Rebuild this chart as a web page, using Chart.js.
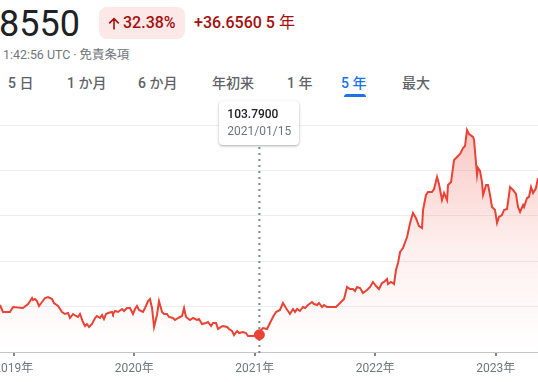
<!DOCTYPE html>
<html lang="ja">
<head>
<meta charset="utf-8">
<script src="https://cdn.jsdelivr.net/npm/chart.js@4.4.0/dist/chart.umd.min.js"></script>
<style>
  html, body { margin: 0; padding: 0; }
  body {
    width: 538px; height: 382px; overflow: hidden; position: relative; background: #fff;
    font-family: Roboto, "Noto Sans CJK JP", sans-serif;
  }
  .price { position: absolute; left: -1px; top: 3px; font-size: 36px; line-height: 42px; color: #202124; }
  .badge {
    position: absolute; left: 99px; top: 7px; width: 86px; height: 32px; box-sizing: border-box;
    padding-left: 24px; border-radius: 8px; background: #fce8e6; color: #a50e0e;
    font-size: 16px; font-weight: 500; line-height: 32px; white-space: nowrap;
  }
  .badge svg { position: absolute; left: 9px; top: 10px; }
  .change { position: absolute; left: 194px; top: 7px; line-height: 32px; color: #a50e0e; font-size: 16px; font-weight: 500; white-space: nowrap; }
  .change span { font-weight: 400; }
  .stamp { position: absolute; left: 3px; top: 47px; font-size: 12.4px; line-height: 16px; color: #70757a; white-space: nowrap; }
  .tab { position: absolute; top: 74px; font-size: 14px; font-weight: 500; line-height: 18px; color: #5f6368; white-space: nowrap; }
  .tab.on { color: #1a73e8; }
  .tab.on::after { content: ''; position: absolute; left: 3px; right: 0; top: 20px; height: 3px; background: #1a73e8; border-radius: 3px 3px 0 0; }
  #wrap { position: absolute; left: -60px; top: 100px; width: 658px; height: 282px; }
  #tip {
    position: absolute; top: 101px; width: 80px; height: 44px; box-sizing: border-box; padding: 5px 0 0 8px;
    background: #fff; border-radius: 4px; font-size: 12px; line-height: 17px; z-index: 2;
    box-shadow: 0 1px 3px rgba(60,64,67,.3), 0 1px 2px rgba(60,64,67,.15);
  }
  #tipValue { color: #202124; font-weight: 500; }
  #tipDate { color: #70757a; }
</style>
</head>
<body>
<div class="price">8550</div>
<div class="badge"><svg width="12" height="13" viewBox="0 0 12 13"><path d="M6 12.5V1.6M1.2 6.4L6 1.6l4.8 4.8" fill="none" stroke="#a50e0e" stroke-width="1.6"/></svg>32.38%</div>
<div class="change">+36.6560 5 <span>年</span></div>
<div class="stamp">1:42:56 UTC · 免責条項</div>

<div class="tab" style="left:8px">5 日</div>
<div class="tab" style="left:67px">1 か月</div>
<div class="tab" style="left:138px">6 か月</div>
<div class="tab" style="left:212px">年初来</div>
<div class="tab" style="left:287px">1 年</div>
<div class="tab on" style="left:341px">5 年</div>
<div class="tab" style="left:402px">最大</div>

<div id="wrap"><canvas id="chart"></canvas></div>
<div id="tip"><div id="tipValue"></div><div id="tipDate"></div></div>

<script>
// x positions as decimal years
const xYears = [
  2018.885, 2018.910, 2018.968, 2018.993, 2019.076, 2019.118, 2019.151, 2019.159, 2019.176, 2019.192,
  2019.209, 2019.234, 2019.259, 2019.284, 2019.317, 2019.333, 2019.367, 2019.400, 2019.425, 2019.450,
  2019.466, 2019.491, 2019.516, 2019.533, 2019.549, 2019.574, 2019.591, 2019.607, 2019.624, 2019.649,
  2019.674, 2019.690, 2019.715, 2019.732, 2019.748, 2019.765, 2019.782, 2019.815, 2019.823, 2019.840,
  2019.865, 2019.898, 2019.915, 2019.939, 2019.964, 2019.989, 2020.006, 2020.022, 2020.039, 2020.072,
  2020.089, 2020.114, 2020.130, 2020.147, 2020.164, 2020.188, 2020.205, 2020.230, 2020.247, 2020.271,
  2020.288, 2020.321, 2020.338, 2020.363, 2020.379, 2020.396, 2020.413, 2020.429, 2020.462, 2020.487,
  2020.520, 2020.537, 2020.562, 2020.595, 2020.612, 2020.637, 2020.653, 2020.678, 2020.695, 2020.720,
  2020.736, 2020.770, 2020.786, 2020.811, 2020.828, 2020.853, 2020.869, 2020.902, 2020.927, 2020.944,
  2020.985, 2021.038, 2021.052, 2021.068, 2021.102, 2021.126, 2021.151, 2021.176, 2021.209, 2021.234,
  2021.259, 2021.292, 2021.317, 2021.334, 2021.351, 2021.375, 2021.400, 2021.417, 2021.442, 2021.475,
  2021.492, 2021.517, 2021.533, 2021.558, 2021.575, 2021.600, 2021.624, 2021.674, 2021.691, 2021.724,
  2021.741, 2021.766, 2021.790, 2021.815, 2021.832, 2021.849, 2021.874, 2021.898, 2021.932, 2021.957,
  2021.981, 2022.006, 2022.031, 2022.056, 2022.073, 2022.098, 2022.106, 2022.131, 2022.147, 2022.156,
  2022.172, 2022.189, 2022.206, 2022.230, 2022.264, 2022.289, 2022.313, 2022.338, 2022.363, 2022.388,
  2022.397, 2022.421, 2022.438, 2022.471, 2022.488, 2022.513, 2022.529, 2022.554, 2022.571, 2022.596,
  2022.604, 2022.629, 2022.654, 2022.679, 2022.704, 2022.729, 2022.745, 2022.762, 2022.778, 2022.812,
  2022.820, 2022.845, 2022.853, 2022.870, 2022.886, 2022.895, 2022.920, 2022.936, 2022.953, 2022.969,
  2022.994, 2023.011, 2023.027, 2023.052, 2023.069, 2023.094, 2023.119, 2023.144, 2023.168, 2023.185,
  2023.202, 2023.227, 2023.235, 2023.260, 2023.276, 2023.293, 2023.310, 2023.334, 2023.351
];

const prices = [
  110.35, 108.81, 108.81, 109.91, 109.69, 110.57, 111.89, 111.45, 111.67, 111.23,
  110.13, 111.01, 111.89, 112.11, 111.67, 110.79, 110.13, 108.81, 108.37, 108.59,
  107.49, 108.37, 107.93, 107.71, 108.37, 106.61, 105.73, 106.17, 105.51, 106.17,
  107.49, 107.93, 107.49, 108.15, 107.27, 108.37, 108.59, 108.81, 108.37, 109.03,
  108.81, 109.47, 109.03, 109.69, 109.69, 108.37, 109.47, 110.13, 109.25, 108.81,
  109.69, 111.23, 111.67, 109.69, 105.51, 108.15, 111.23, 108.81, 108.37, 108.37,
  107.71, 107.49, 107.05, 107.49, 107.71, 107.93, 109.69, 107.71, 107.05, 107.49,
  107.05, 107.27, 106.17, 106.39, 106.61, 105.73, 106.39, 106.39, 105.07, 105.51,
  105.73, 105.51, 105.07, 104.63, 103.74, 104.63, 104.18, 104.41, 104.18, 103.52,
  103.52, 103.79, 104.85, 105.29, 105.07, 106.39, 107.71, 108.81, 109.25, 110.79,
  109.69, 108.37, 109.47, 108.81, 109.47, 109.03, 109.91, 109.69, 110.35, 111.01,
  110.57, 110.35, 110.79, 109.91, 110.35, 109.91, 109.91, 109.91, 110.35, 111.23,
  111.67, 114.32, 113.88, 113.88, 113.44, 114.32, 114.10, 113.00, 113.66, 114.32,
  115.42, 114.54, 113.88, 115.20, 115.42, 116.08, 114.98, 115.42, 115.20, 114.98,
  118.06, 119.60, 122.03, 122.91, 125.33, 128.41, 130.62, 129.51, 127.75, 127.31,
  131.28, 134.58, 135.24, 135.24, 135.90, 138.55, 137.00, 133.48, 135.02, 133.48,
  136.78, 137.44, 142.29, 142.95, 143.61, 144.93, 145.37, 148.90, 148.02, 147.36,
  146.70, 138.99, 140.53, 139.87, 137.44, 134.58, 136.78, 136.78, 134.58, 131.94,
  131.28, 128.41, 129.74, 130.18, 131.28, 131.50, 136.34, 135.68, 134.80, 131.94,
  130.84, 132.38, 131.94, 133.92, 134.14, 136.34, 135.02, 136.12, 138.33
];

const yearTicks = [2019, 2020, 2021, 2022, 2023];
const yTicks = [100, 110, 120, 130, 140, 150];
const xMin = 2018.387;
const xMax = 2023.849;

// hovered point shown in the tooltip
const hoverX = 2021.038;
const hoverDate = '2021/01/15';
const hoverIndex = xYears.indexOf(hoverX);

const lineColor = '#ea4335';

// dotted crosshair through the hovered point
const crosshair = {
    id: 'crosshair',
    beforeDatasetsDraw(chart) {
        const { ctx, chartArea } = chart;
        const x = chart.scales.x.getPixelForValue(xYears[hoverIndex]);
        ctx.save();
        ctx.strokeStyle = '#80868b';
        ctx.lineWidth = 2;
        ctx.setLineDash([2, 4]);
        ctx.beginPath();
        ctx.moveTo(x, 47);
        ctx.lineTo(x, chartArea.bottom + 5);
        ctx.stroke();
        ctx.restore();
    }
};

function fillGradient(context) {
    const { ctx, chartArea } = context.chart;
    if (!chartArea) return 'rgba(234,67,53,0.1)';
    const g = ctx.createLinearGradient(0, chartArea.top, 0, chartArea.bottom);
    g.addColorStop(0, 'rgba(234,67,53,0.30)');
    g.addColorStop(0.55, 'rgba(234,67,53,0.08)');
    g.addColorStop(1, 'rgba(234,67,53,0)');
    return g;
}

const chart = new Chart(document.getElementById('chart'), {
    type: 'line',
    data: {
        datasets: [{
            data: xYears.map((x, i) => ({ x: x, y: prices[i] })),
            borderColor: lineColor,
            borderWidth: 2,
            tension: 0,
            fill: 'start',
            backgroundColor: fillGradient,
            pointRadius: ctx => ctx.dataIndex === hoverIndex ? 5 : 0,
            pointBackgroundColor: lineColor,
            pointBorderColor: lineColor,
            pointBorderWidth: 1
        }]
    },
    options: {
        responsive: true,
        maintainAspectRatio: false,
        animation: false,
        layout: { padding: { top: 25, left: 0, right: 0, bottom: 0 } },
        plugins: {
            legend: { display: false },
            tooltip: { enabled: false }
        },
        scales: {
            x: {
                type: 'linear',
                min: xMin,
                max: xMax,
                afterBuildTicks: s => { s.ticks = yearTicks.map(v => ({ value: v })); },
                afterFit: s => { s.height = 30; },
                grid: { drawOnChartArea: false, drawTicks: true, tickLength: 4, color: '#80868b', lineWidth: 2 },
                border: { color: '#c4c7c5', width: 1 },
                ticks: {
                    autoSkip: false,
                    maxRotation: 0,
                    padding: 6,
                    color: '#70757a',
                    font: { family: 'Roboto, "Noto Sans CJK JP"', size: 12 },
                    callback: v => v + '年'
                }
            },
            y: {
                min: 100,
                max: 150,
                afterBuildTicks: s => { s.ticks = yTicks.map(v => ({ value: v })); },
                afterFit: s => { s.width = 0; },
                grid: { drawTicks: false, color: '#eceef0' },
                border: { display: false },
                ticks: { display: false }
            }
        }
    },
    plugins: [crosshair]
});

// html tooltip centred on the hovered point
const tip = document.getElementById('tip');
document.getElementById('tipValue').textContent = prices[hoverIndex].toFixed(4);
document.getElementById('tipDate').textContent = hoverDate;
const px = chart.scales.x.getPixelForValue(xYears[hoverIndex]) - 60;
tip.style.left = (px - 40) + 'px';
</script>
</body>
</html>
